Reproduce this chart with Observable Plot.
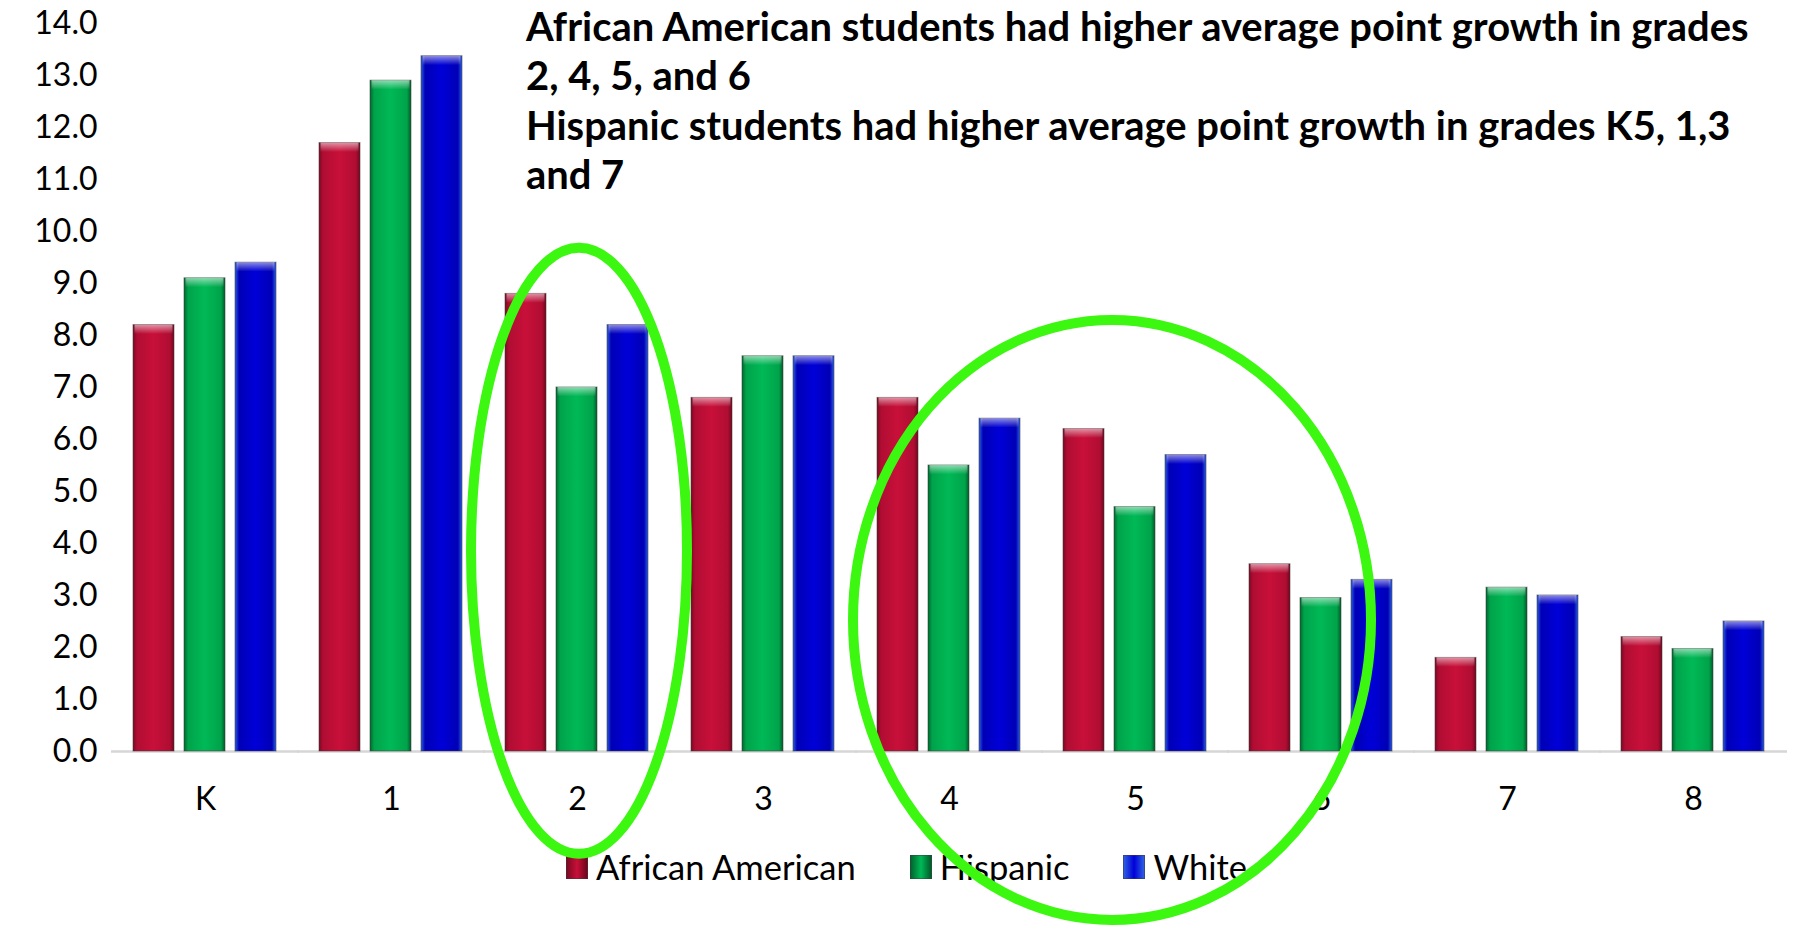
<!DOCTYPE html>
<html>
<head>
<meta charset="utf-8">
<script src="https://cdn.jsdelivr.net/npm/d3@7"></script>
<script src="https://cdn.jsdelivr.net/npm/@observablehq/plot@0.6"></script>
<style>
  body { margin: 0; background: #fff; font-family: Lato, "Open Sans", sans-serif; }
  #wrap { position: relative; width: 1800px; height: 927px; overflow: hidden; background: #fff; }
  #chart { position: absolute; left: 0; top: 0; z-index: 2; }
  #chart svg { overflow: visible; background: transparent !important; }
  #title { position: absolute; left: 526px; top: 2px; z-index: 3; font-weight: 700; color: #000;
           line-height: 49.4px; white-space: nowrap; }
  #legend { position: absolute; left: 566px; top: 847px; z-index: 1; display: flex; align-items: center;
            gap: 54px; font-size: 34.5px; line-height: 40px; color: #000; }
  .item { display: flex; align-items: center; gap: 8px; }
  .sw { width: 22px; height: 24px; box-sizing: border-box; border: 1px solid rgba(60,60,60,0.5); }
</style>
</head>
<body>
<div id="wrap">
  <div id="chart"></div>
  <div id="title"></div>
  <div id="legend"></div>
</div>
<script>
// ---- data ----
const grades = ["K", "1", "2", "3", "4", "5", "6", "7", "8"];
const series = ["African American", "Hispanic", "White"];
const africanAmerican = [8.2, 11.7, 8.8, 6.8, 6.8, 6.2, 3.6, 1.8, 2.2];
const hispanic        = [9.1, 12.9, 7.0, 7.6, 5.5, 4.7, 2.95, 3.15, 1.97];
const white           = [9.4, 13.37, 8.2, 7.6, 6.4, 5.7, 3.3, 3.0, 2.5];
const yTicks = [0, 1, 2, 3, 4, 5, 6, 7, 8, 9, 10, 11, 12, 13, 14];
const titleLines = [
  "African American students had higher average point growth in grades",
  "2, 4, 5, and 6",
  "Hispanic students had higher average point growth in grades K5, 1,3",
  "and 7"
];
// annotation ellipses (grade-anchored, value-centred)
const highlightGrades = ["2", "5"];
const highlightCenters = [3.85, 2.52];

// ---- styling ----
const seriesColors = [
  ["#7d0822", "#b00d33", "#c81039", "#b00d33", "#6e061d"],
  ["#00672f", "#00a34a", "#00b956", "#00a34a", "#005c2a"],
  ["#2d5ee0", "#0000b5", "#0000d8", "#0000b5", "#2d5ee0"]
];
const gradStops = [0, 0.1, 0.5, 0.9, 1];

const values = [africanAmerican, hispanic, white];
const rows = [];
grades.forEach((g, i) => series.forEach((s, j) => rows.push({grade: g, series: s, si: j, value: values[j][i]})));

const marks = [
  Plot.ruleY([0], {stroke: "#d6d6d6", strokeWidth: 2.5, insetLeft: -21, insetRight: -21}),
  ...series.map((s, j) => Plot.barY(rows.filter(d => d.si === j), {
    fx: "grade", x: "series", y: "value",
    fill: `url(#grad${j})`, stroke: "#3a3a3a", strokeOpacity: 0.55, strokeWidth: 1
  })),
  Plot.barY(rows, {fx: "grade", x: "series", y1: d => d.value - 0.18, y2: "value",
    fill: "url(#topHl)", insetLeft: 1.5, insetRight: 1.5}),
  Plot.axisY({ticks: yTicks, tickSize: 0, tickPadding: 35, tickFormat: d3.format(".1f"), label: null}),
  Plot.axisFx({anchor: "bottom", tickSize: 0, tickPadding: 36, label: null})
];

const chart = Plot.plot({
  width: 1800,
  height: 840,
  marginLeft: 111,
  marginRight: 13,
  marginTop: 23,
  marginBottom: 89,
  style: {fontFamily: "Lato, 'Open Sans', sans-serif", fontSize: "32px", color: "#000", background: "transparent", overflow: "visible"},
  fx: {domain: grades, paddingInner: 0.216, paddingOuter: 0.108, label: null},
  x: {domain: series, paddingInner: 0.192, paddingOuter: 0, axis: null},
  y: {domain: [0, 14], axis: null},
  marks
});
document.getElementById("chart").appendChild(chart);

// gradient defs
const svg = d3.select(chart);
const defs = svg.insert("defs", ":first-child");
seriesColors.forEach((cols, j) => {
  const lg = defs.append("linearGradient").attr("id", `grad${j}`).attr("x1", 0).attr("x2", 1).attr("y1", 0).attr("y2", 0);
  cols.forEach((c, k) => lg.append("stop").attr("offset", gradStops[k]).attr("stop-color", c));
});
const hl = defs.append("linearGradient").attr("id", "topHl").attr("x1", 0).attr("x2", 0).attr("y1", 0).attr("y2", 1);
hl.append("stop").attr("offset", 0).attr("stop-color", "#fff").attr("stop-opacity", 0.55);
hl.append("stop").attr("offset", 1).attr("stop-color", "#fff").attr("stop-opacity", 0);

// annotation ellipses via the plot's scales
const fxS = chart.scale("fx"), yS = chart.scale("y");
const ellipseShapes = [{dx: 2, rx: 108, ry: 303}, {dx: -23, rx: 259, ry: 300}];
highlightGrades.forEach((g, k) => {
  const e = ellipseShapes[k];
  svg.append("ellipse")
    .attr("cx", fxS.apply(g) + fxS.bandwidth / 2 + e.dx)
    .attr("cy", yS.apply(highlightCenters[k]))
    .attr("rx", e.rx).attr("ry", e.ry)
    .attr("fill", "none").attr("stroke", "#3cf70f").attr("stroke-width", 10);
});

// title
const title = document.getElementById("title");
titleLines.forEach(t => {
  const d = document.createElement("div");
  const sp = document.createElement("span");
  sp.textContent = t;
  d.appendChild(sp);
  title.appendChild(d);
});
title.style.fontSize = "34px";
const w0 = title.querySelector("span").getBoundingClientRect().width;
title.style.fontSize = (34 * 1223 / w0).toFixed(2) + "px";

// legend
const legend = document.getElementById("legend");
series.forEach((s, j) => {
  const it = document.createElement("div");
  it.className = "item";
  const sw = document.createElement("div");
  sw.className = "sw";
  const c = seriesColors[j];
  sw.style.background = `linear-gradient(to right, ${c[0]}, ${c[2]} 50%, ${c[4]})`;
  const tx = document.createElement("span");
  tx.textContent = s;
  it.appendChild(sw); it.appendChild(tx);
  legend.appendChild(it);
});
</script>
</body>
</html>
